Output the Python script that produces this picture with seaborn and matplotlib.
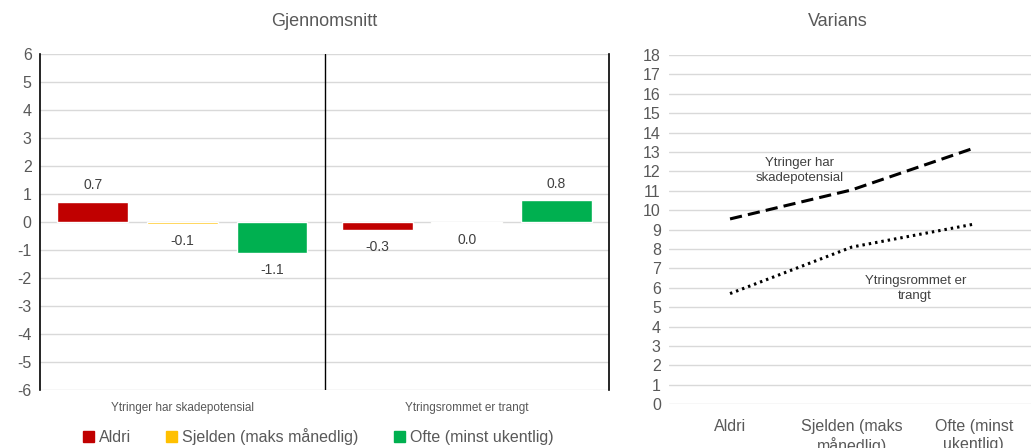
import seaborn as sns
import pandas as pd
import matplotlib.pyplot as plt
from matplotlib.patches import Patch

# data
grupper = ['Ytringer har skadepotensial', 'Ytringsrommet er trangt']
frekvens = ['Aldri', 'Sjelden (maks månedlig)', 'Ofte (minst ukentlig)']
snitt_skade = [0.73, -0.08, -1.12]
snitt_trangt = [-0.28, -0.03, 0.77]

varians_x = ['Aldri', 'Sjelden (maks\nmånedlig)', 'Ofte (minst\nukentlig)']
varians_skade = [9.55, 11.05, 13.2]
varians_trangt = [5.7, 8.1, 9.28]

farger = ['#C00000', '#FFC000', '#00B050']
grey = '#595959'

sns.set_style('white')
plt.rcParams['font.family'] = ['Liberation Sans', 'DejaVu Sans']
plt.rcParams['axes.unicode_minus'] = False

bars = pd.DataFrame({
    'gruppe': [grupper[0]] * 3 + [grupper[1]] * 3,
    'frekvens': frekvens * 2,
    'verdi': snitt_skade + snitt_trangt,
})
lines = pd.DataFrame({
    'x': varians_x * 2,
    'verdi': varians_skade + varians_trangt,
    'serie': ['skade'] * 3 + ['trangt'] * 3,
})

fig = plt.figure(figsize=(10.31, 4.48), dpi=100)
ax1 = fig.add_axes([0.0388, 0.1295, 0.552, 0.75])
ax2 = fig.add_axes([0.649, 0.098, 0.351, 0.779])

# left: Gjennomsnitt
sns.barplot(data=bars, x='gruppe', y='verdi', hue='frekvens', hue_order=frekvens,
            palette=farger, saturation=1, width=0.945, gap=0.21, legend=False,
            ax=ax1, zorder=3)
for c in ax1.containers:
    ax1.bar_label(c, fmt=lambda v: f"{0.0 if round(v, 1) == 0 else v:.1f}",
                  padding=7, fontsize=10, color='#404040')
ax1.set_ylim(-6, 6)
ax1.set_xlim(-0.5, 1.5)
ax1.set_yticks(range(-6, 7))
ax1.grid(axis='y', color='#d9d9d9', lw=1, zorder=0)
ax1.axvline(0.5, color='black', lw=1, zorder=4)
for s in ['top', 'bottom']:
    ax1.spines[s].set_visible(False)
for s in ['left', 'right']:
    ax1.spines[s].set_color('black')
    ax1.spines[s].set_linewidth(1.2)
ax1.tick_params(axis='y', length=0, labelsize=11.5, labelcolor=grey, pad=6)
ax1.tick_params(axis='x', length=0, labelsize=8.5, labelcolor=grey, pad=9)
ax1.set_xlabel('')
ax1.set_ylabel('')

# right: Varians
sns.lineplot(data=lines, x='x', y='verdi', style='serie', color='black',
             dashes={'skade': (4, 2), 'trangt': (0.8, 1.3)}, linewidth=2.2,
             legend=False, ax=ax2, sort=False)
ax2.set_ylim(0, 18)
ax2.set_xlim(-0.5, 2.47)
ax2.set_yticks(range(0, 19))
ax2.grid(axis='y', color='#d9d9d9', lw=1)
sns.despine(ax=ax2, left=True, bottom=True)
ax2.tick_params(axis='y', length=0, labelsize=11.5, labelcolor=grey, pad=6)
ax2.tick_params(axis='x', length=0, labelsize=11.5, labelcolor=grey, pad=11)
ax2.set_xlabel('')
ax2.set_ylabel('')
ax2.text(0.57, 12.05, 'Ytringer har\nskadepotensial', ha='center', va='center',
         fontsize=9.5, color='#404040', linespacing=1.35)
ax2.text(1.52, 5.95, 'Ytringsrommet er\ntrangt', ha='center', va='center',
         fontsize=9.5, color='#404040', linespacing=1.35)

fig.text(324 / 1031, 1 - 22 / 448, 'Gjennomsnitt', ha='center', va='center',
         fontsize=13, color=grey)
fig.text(838 / 1031, 1 - 22 / 448, 'Varians', ha='center', va='center',
         fontsize=13, color=grey)

handles = [Patch(color=c, label=l) for c, l in zip(farger, frekvens)]
fig.legend(handles=handles, loc='center', bbox_to_anchor=(318 / 1031, 1 - 437 / 448),
           ncol=3, frameon=False, fontsize=11.5, labelcolor=grey,
           handlelength=0.7, handleheight=0.7, handletextpad=0.3, columnspacing=2.2)

fig.savefig('out.png', dpi=100)
